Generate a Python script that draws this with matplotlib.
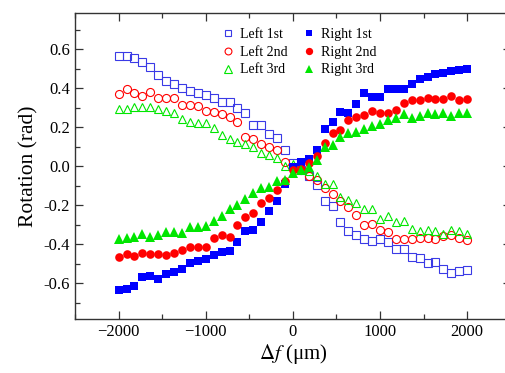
import matplotlib
matplotlib.use("Agg")
import matplotlib.pyplot as plt
from matplotlib.ticker import MultipleLocator

plt.rcParams['font.family'] = ['Liberation Serif', 'DejaVu Serif']
plt.rcParams['mathtext.fontset'] = 'stix'

# defocus positions (um)
df = [-2000, -1909, -1818, -1727, -1636, -1545, -1455, -1364, -1273, -1182,
      -1091, -1000, -909, -818, -727, -636, -545, -455, -364, -273,
      -182, -91, 0, 91, 182, 273, 364, 455, 545, 636,
      727, 818, 909, 1000, 1091, 1182, 1273, 1364, 1455, 1545,
      1636, 1727, 1818, 1909, 2000]

# rotation (rad)
left_1st = [0.567, 0.567, 0.558, 0.538, 0.512, 0.469, 0.438, 0.423, 0.404, 0.385,
            0.375, 0.365, 0.353, 0.330, 0.330, 0.301, 0.272, 0.211, 0.211, 0.168,
            0.146, 0.086, 0.015, -0.019, -0.048, -0.096, -0.180, -0.205, -0.288, -0.332,
            -0.354, -0.375, -0.382, -0.372, -0.390, -0.425, -0.425, -0.464, -0.469, -0.495,
            -0.490, -0.526, -0.546, -0.536, -0.533]
left_2nd = [0.372, 0.396, 0.378, 0.363, 0.382, 0.351, 0.353, 0.351, 0.315, 0.317,
            0.312, 0.284, 0.279, 0.271, 0.255, 0.228, 0.151, 0.140, 0.115, 0.098,
            0.086, 0.024, -0.002, -0.019, -0.048, -0.072, -0.113, -0.142, -0.180, -0.209,
            -0.250, -0.303, -0.296, -0.325, -0.336, -0.374, -0.374, -0.372, -0.366, -0.368,
            -0.373, -0.360, -0.354, -0.366, -0.378]
left_3rd = [0.293, 0.293, 0.307, 0.303, 0.303, 0.293, 0.283, 0.272, 0.241, 0.228,
            0.221, 0.221, 0.199, 0.163, 0.142, 0.125, 0.115, 0.101, 0.068, 0.057,
            0.043, 0.002, 0.010, -0.012, -0.022, -0.048, -0.092, -0.092, -0.156, -0.173,
            -0.187, -0.221, -0.219, -0.270, -0.253, -0.286, -0.278, -0.322, -0.331, -0.327,
            -0.331, -0.345, -0.329, -0.332, -0.348]
right_1st = [-0.635, -0.628, -0.616, -0.567, -0.562, -0.580, -0.550, -0.541, -0.526, -0.495,
             -0.486, -0.476, -0.456, -0.442, -0.435, -0.390, -0.331, -0.327, -0.284, -0.228,
             -0.178, -0.092, -0.005, 0.021, 0.036, 0.084, 0.192, 0.226, 0.277, 0.272,
             0.320, 0.375, 0.357, 0.358, 0.398, 0.399, 0.396, 0.424, 0.449, 0.458,
             0.473, 0.479, 0.491, 0.494, 0.499]
right_2nd = [-0.464, -0.450, -0.459, -0.445, -0.450, -0.450, -0.456, -0.447, -0.430, -0.416,
             -0.416, -0.414, -0.370, -0.353, -0.365, -0.301, -0.262, -0.241, -0.190, -0.164,
             -0.123, -0.074, -0.021, -0.015, 0.015, 0.053, 0.122, 0.173, 0.188, 0.236,
             0.252, 0.262, 0.285, 0.275, 0.275, 0.290, 0.325, 0.343, 0.339, 0.353,
             0.346, 0.346, 0.359, 0.339, 0.347]
right_3rd = [-0.375, -0.366, -0.361, -0.348, -0.361, -0.354, -0.339, -0.339, -0.344, -0.313,
             -0.313, -0.305, -0.279, -0.253, -0.219, -0.199, -0.168, -0.139, -0.110, -0.108,
             -0.075, -0.070, -0.033, -0.019, -0.002, 0.031, 0.099, 0.108, 0.149, 0.170,
             0.176, 0.190, 0.209, 0.215, 0.239, 0.246, 0.269, 0.249, 0.258, 0.276,
             0.271, 0.274, 0.259, 0.273, 0.273]

blue = '#0000ff'
red = '#ff0000'
green = '#00e600'

fig = plt.figure(figsize=(5.05, 3.73), dpi=100)
ax = fig.add_axes([0.1485, 0.144, 0.863, 0.82])

ax.plot(df, left_1st, 's', ms=5.2, mfc='none', mec='#3a3ae6', mew=0.8, label='Left 1st')
ax.plot(df, left_2nd, 'o', ms=5.8, mfc='none', mec=red, mew=0.8, label='Left 2nd')
ax.plot(df, left_3rd, '^', ms=6.0, mfc='none', mec=green, mew=0.8, label='Left 3rd')
ax.plot(df, right_1st, 's', ms=5.4, color=blue, mew=0, label='Right 1st')
ax.plot(df, right_2nd, 'o', ms=6.2, color=red, mew=0, label='Right 2nd')
ax.plot(df, right_3rd, '^', ms=6.6, color=green, mew=0, label='Right 3rd')

ax.set_xlim(-2500, 2500)
ax.set_ylim(-0.785, 0.785)
ax.xaxis.set_major_locator(MultipleLocator(1000))
ax.xaxis.set_minor_locator(MultipleLocator(500))
ax.yaxis.set_major_locator(MultipleLocator(0.2))
ax.yaxis.set_minor_locator(MultipleLocator(0.1))
ax.yaxis.set_major_formatter(matplotlib.ticker.FormatStrFormatter('%.1f'))

ax.tick_params(which='both', direction='in', top=True, right=True, labelsize=12,
               color='#333333', width=0.9)
ax.tick_params(which='major', length=6)
ax.tick_params(which='minor', length=3.5)
for s in ax.spines.values():
    s.set_linewidth(1.0)
    s.set_color('#333333')

ax.set_xlabel(r'$\Delta f$ (μm)', fontsize=15, labelpad=1)
ax.set_ylabel('Rotation (rad)', fontsize=15.5, labelpad=4)

ax.legend(ncol=2, loc='upper left', bbox_to_anchor=(0.315, 0.985), frameon=False,
          fontsize=10, handlelength=0.9, handletextpad=0.4, columnspacing=1.1,
          labelspacing=0.35, borderpad=0.2, markerscale=0.85)

fig.savefig('out.png', dpi=100)
